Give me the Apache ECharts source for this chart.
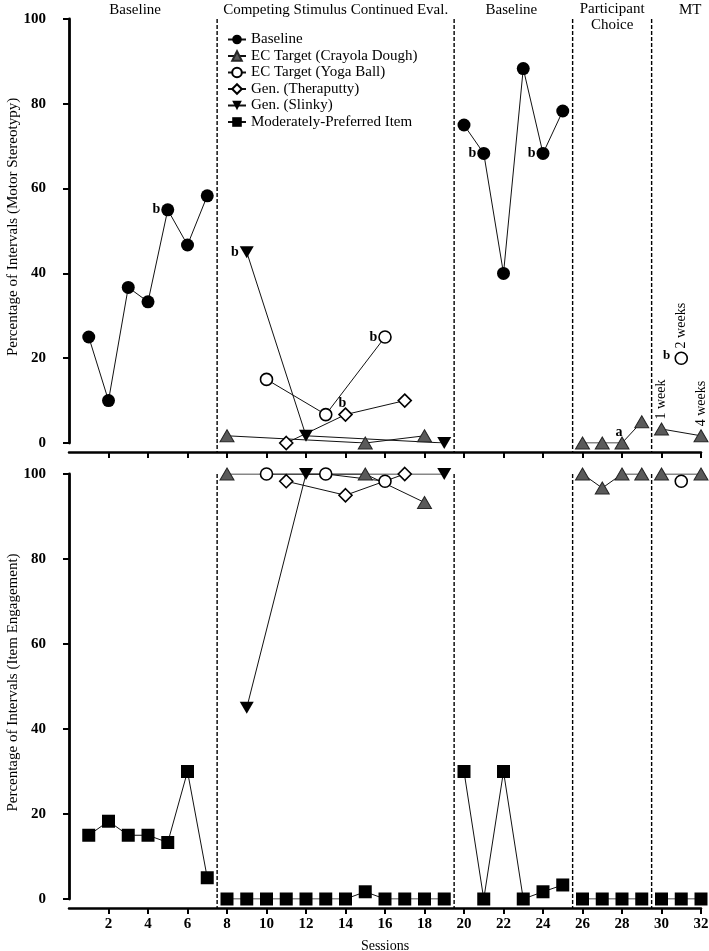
<!DOCTYPE html>
<html>
<head>
<meta charset="utf-8">
<script src="https://cdn.jsdelivr.net/npm/echarts@6/dist/echarts.min.js"></script>
<style>
html, body { margin: 0; padding: 0; background: #fff; }
#chart { width: 709px; height: 951px; }
</style>
</head>
<body>
<div id="chart"></div>
<script>
var FONT = '"Liberation Serif", "DejaVu Serif", serif';

// phase change lines sit between sessions
var phaseLines = [7.5, 19.5, 25.5, 29.5];
var phaseNames = ['Baseline', 'Competing Stimulus Continued Eval.', 'Baseline', 'Participant\nChoice', 'MT'];
var phaseCenters = [3.35, 13.5, 22.4, 27.5, 31.45];
var yTitles = ['Percentage of Intervals (Motor Stereotypy)', 'Percentage of Intervals (Item Engagement)'];

var xTicks = [2, 4, 6, 8, 10, 12, 14, 16, 18, 20, 22, 24, 26, 28, 30, 32];
var yTicks = [0, 20, 40, 60, 80, 100];

// top panel: motor stereotypy, each inner list is one connected run
var baselineTop = [
    [[1, 25], [2, 10], [3, 36.7], [4, 33.3], [5, 55], [6, 46.7], [7, 58.3]],
    [[20, 75], [21, 68.3], [22, 40], [23, 88.3], [24, 68.3], [25, 78.3]]
];
var crayolaTop = [
    [[8, 1.7], [15, 0], [18, 1.7]],
    [[26, 0], [27, 0], [28, 0], [29, 5]],
    [[30, 3.3], [32, 1.7]]
];
var yogaTop = [
    [[10, 15], [13, 6.7], [16, 25]],
    [[31, 20]]
];
var theraputtyTop = [[[11, 0], [14, 6.7], [17, 10]]];
var slinkyTop = [[[9, 45], [12, 1.7], [19, 0]]];

// bottom panel: item engagement
var crayolaBottom = [
    [[8, 100], [15, 100], [18, 93.3]],
    [[26, 100], [27, 96.7], [28, 100], [29, 100]],
    [[30, 100], [32, 100]]
];
var yogaBottom = [
    [[10, 100], [13, 100], [16, 98.3]],
    [[31, 98.3]]
];
var theraputtyBottom = [[[11, 98.3], [14, 95], [17, 100]]];
var slinkyBottom = [[[9, 45], [12, 100], [19, 100]]];
var moderateBottom = [
    [[1, 15], [2, 18.3], [3, 15], [4, 15], [5, 13.3], [6, 30], [7, 5]],
    [[8, 0], [9, 0], [10, 0], [11, 0], [12, 0], [13, 0], [14, 0], [15, 1.7], [16, 0], [17, 0], [18, 0], [19, 0]],
    [[20, 30], [21, 0], [22, 30], [23, 0], [24, 1.7], [25, 3.3]],
    [[26, 0], [27, 0], [28, 0], [29, 0]],
    [[30, 0], [31, 0], [32, 0]]
];

// notes on top panel points: series, session, text, placement
var notes = [
    ['baseline', 5, 'b', 'left'],
    ['baseline', 21, 'b', 'left'],
    ['baseline', 24, 'b', 'left'],
    ['slinky', 9, 'b', 'left'],
    ['yoga', 16, 'b', 'left'],
    ['theraputty', 14, 'b', 'above'],
    ['crayola', 28, 'a', 'above'],
    ['crayola', 30, '1 week', 'up'],
    ['crayola', 32, '4 weeks', 'up'],
    ['yoga', 31, '2 weeks', 'up']
];

var names = {
    baseline: 'Baseline',
    crayola: 'EC Target (Crayola Dough)',
    yoga: 'EC Target (Yoga Ball)',
    theraputty: 'Gen. (Theraputty)',
    slinky: 'Gen. (Slinky)',
    moderate: 'Moderately-Preferred Item'
};
var order = ['baseline', 'crayola', 'yoga', 'theraputty', 'slinky', 'moderate'];

var looks = {
    baseline: { symbol: 'circle', symbolSize: 13, itemStyle: { color: '#000' } },
    crayola: { symbol: 'triangle', symbolSize: [14, 12], itemStyle: { color: '#5a5a5a', borderColor: '#262626', borderWidth: 1 } },
    yoga: { symbol: 'circle', symbolSize: 12, itemStyle: { color: '#fff', borderColor: '#000', borderWidth: 1.6 } },
    theraputty: { symbol: 'diamond', symbolSize: 13, itemStyle: { color: '#fff', borderColor: '#000', borderWidth: 1.6 } },
    slinky: { symbol: 'triangle', symbolRotate: 180, symbolSize: [14, 12], itemStyle: { color: '#000' } },
    moderate: { symbol: 'rect', symbolSize: 13, itemStyle: { color: '#000' } }
};

function noteLabel(text, kind) {
    var lab = { show: true, formatter: text, color: '#000', fontFamily: FONT, fontSize: 14 };
    if (kind === 'left') {
        lab.position = 'left'; lab.distance = 1; lab.fontWeight = 'bold';
    } else if (kind === 'above') {
        lab.position = 'top'; lab.distance = 0; lab.offset = [-3, 3]; lab.fontWeight = 'bold';
    } else {
        lab.position = 'top'; lab.distance = 3; lab.rotate = 90;
        lab.align = 'left'; lab.verticalAlign = 'middle';
    }
    return lab;
}

// runs -> one data list with '-' breaks between phases
function joinRuns(runs, key, withNotes) {
    var out = [];
    runs.forEach(function (run, i) {
        if (i > 0) out.push([run[0][0] - 0.5, '-']);
        run.forEach(function (p) {
            var item = { value: p };
            if (withNotes) {
                notes.forEach(function (n) {
                    if (n[0] === key && n[1] === p[0]) item.label = noteLabel(n[2], n[3]);
                });
            }
            out.push(item);
        });
    });
    return out;
}

function makeSeries(key, runs, grid, withNotes) {
    var lk = looks[key];
    return {
        name: names[key],
        type: 'line',
        xAxisIndex: grid,
        yAxisIndex: grid,
        data: joinRuns(runs, key, withNotes),
        symbol: lk.symbol,
        symbolSize: lk.symbolSize,
        symbolRotate: lk.symbolRotate || 0,
        showSymbol: true,
        showAllSymbol: true,
        itemStyle: lk.itemStyle,
        lineStyle: { color: '#111', width: 1 },
        label: { show: false },
        emphasis: { disabled: true }
    };
}

function phaseSeries(grid) {
    var d = [];
    phaseLines.forEach(function (x, i) {
        if (i > 0) d.push([x, '-']);
        d.push([x, 100]);
        d.push([x, -2.1]);
    });
    return {
        type: 'line',
        xAxisIndex: grid,
        yAxisIndex: grid,
        data: d,
        symbol: 'none',
        clip: false,
        silent: true,
        z: 1,
        lineStyle: { color: '#000', width: 1.4, type: [4, 2] }
    };
}

function xAxisCfg(grid, showLabels) {
    return {
        type: 'value',
        gridIndex: grid,
        min: 0,
        max: 32,
        interval: 2,
        offset: 9,
        name: showLabels ? 'Sessions' : '',
        nameLocation: 'middle',
        nameGap: 31,
        nameTextStyle: { color: '#000', fontFamily: FONT, fontSize: 14 },
        axisLine: { show: true, onZero: false, lineStyle: { color: '#000', width: 2.5 } },
        axisTick: { show: true, length: 6, customValues: xTicks, lineStyle: { color: '#000', width: 2 } },
        axisLabel: {
            show: showLabels, customValues: xTicks, margin: 9,
            color: '#000', fontFamily: FONT, fontSize: 15, fontWeight: 'bold'
        },
        splitLine: { show: false }
    };
}

function yAxisCfg(grid) {
    return {
        type: 'value',
        gridIndex: grid,
        min: 0,
        max: 100,
        interval: 20,
        offset: 20,
        axisLine: { show: true, lineStyle: { color: '#000', width: 2.8 } },
        axisTick: { show: true, length: 6, customValues: yTicks, lineStyle: { color: '#000', width: 2 } },
        axisLabel: { margin: 3, color: '#000', fontFamily: FONT, fontSize: 15, fontWeight: 'bold' },
        splitLine: { show: false }
    };
}

var chart = echarts.init(document.getElementById('chart'));

var series = [
    phaseSeries(0),
    phaseSeries(1),
    makeSeries('baseline', baselineTop, 0, true),
    makeSeries('crayola', crayolaTop, 0, true),
    makeSeries('yoga', yogaTop, 0, true),
    makeSeries('theraputty', theraputtyTop, 0, true),
    makeSeries('slinky', slinkyTop, 0, true),
    makeSeries('crayola', crayolaBottom, 1, false),
    makeSeries('yoga', yogaBottom, 1, false),
    makeSeries('theraputty', theraputtyBottom, 1, false),
    makeSeries('slinky', slinkyBottom, 1, false),
    makeSeries('moderate', moderateBottom, 1, false)
];
// the second "b" beside the 2-week probe
series[4].markPoint = {
    silent: true,
    symbol: 'circle',
    symbolSize: 0,
    data: [{ coord: [31, 20] }],
    label: { show: true, formatter: 'b', position: 'left', offset: [-6, -3], color: '#000', fontFamily: FONT, fontSize: 13, fontWeight: 'bold' }
};

chart.setOption({
    animation: false,
    backgroundColor: '#fff',
    grid: [
        { left: 69, right: 8, top: 19, height: 424, outerBoundsMode: 'none' },
        { left: 69, right: 8, top: 474, height: 425, outerBoundsMode: 'none' }
    ],
    legend: {
        orient: 'vertical',
        left: 222,
        top: 27,
        itemWidth: 18,
        itemHeight: 12,
        itemGap: 1.5,
        data: order.map(function (k) { return names[k]; }),
        textStyle: { color: '#000', fontFamily: FONT, fontSize: 15, lineHeight: 14 },
        selectedMode: false
    },
    xAxis: [xAxisCfg(0, false), xAxisCfg(1, true)],
    yAxis: [yAxisCfg(0), yAxisCfg(1)],
    series: series
});

// phase titles above the top panel, and the rotated y-axis titles
var texts = phaseNames.map(function (t, i) {
    var px = chart.convertToPixel({ xAxisIndex: 0, yAxisIndex: 0 }, [phaseCenters[i], 100]);
    var twoLines = t.indexOf('\n') >= 0;
    return {
        type: 'text',
        x: px[0],
        y: twoLines ? 17 : 10,
        silent: true,
        style: {
            text: t, fill: '#000', font: '15px ' + FONT,
            align: 'center', verticalAlign: 'middle', lineHeight: 16
        }
    };
});
yTitles.forEach(function (t, g) {
    var py = chart.convertToPixel({ xAxisIndex: g, yAxisIndex: g }, [0, 50]);
    texts.push({
        type: 'text',
        x: 13,
        y: py[1] - 4,
        rotation: Math.PI / 2,
        silent: true,
        style: {
            text: t, fill: '#000', font: '15px ' + FONT,
            align: 'center', verticalAlign: 'middle'
        }
    });
});
chart.setOption({ graphic: texts });
</script>
</body>
</html>
